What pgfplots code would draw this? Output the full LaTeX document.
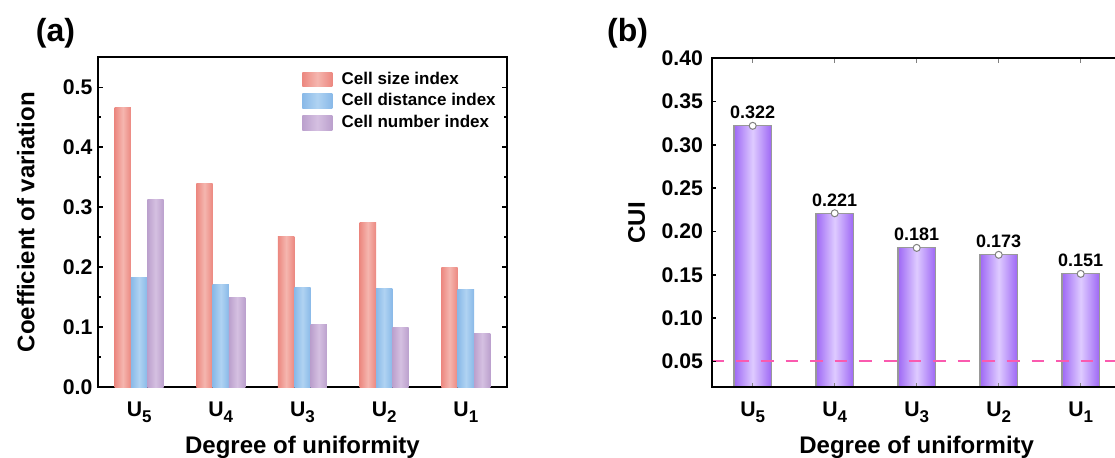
\documentclass[border=0pt]{standalone}
\usepackage{pgfplots}
\pgfplotsset{compat=1.18}
\usepackage{fontspec}
\setmainfont{Liberation Sans}
\definecolor{redD}{RGB}{236,136,128}
\definecolor{redL}{RGB}{245,182,175}
\definecolor{bluD}{RGB}{137,185,232}
\definecolor{bluL}{RGB}{176,211,242}
\definecolor{purD}{RGB}{187,160,205}
\definecolor{purL}{RGB}{213,192,225}
\definecolor{vioD}{RGB}{158,104,245}
\definecolor{vioL}{RGB}{222,203,255}
\definecolor{pinkD}{RGB}{250,90,175}
\newcommand{\sub}[1]{\raisebox{-2.9pt}{\fontsize{8.5}{8.5}\selectfont #1}}
\pgfplotsset{
  common/.style={
    scale only axis,
    xmin=-0.5, xmax=4.5,
    xtick={0,1,2,3,4},
    xticklabels={U\sub{5},U\sub{4},U\sub{3},U\sub{2},U\sub{1}},
    /pgf/number format/assume math mode=true,
    tick label style={font=\fontsize{10.6}{12}\selectfont\bfseries},
    xticklabel style={yshift=-3.8pt},
    axis line style={line width=1.1pt},
    major tick length=2.2pt, minor tick length=1.3pt,
    every tick/.style={black, line width=0.8pt},
    xlabel={Degree of uniformity},
    label style={font=\fontsize{12}{14}\selectfont\bfseries},
    xlabel style={at={(axis description cs:0.5,-0.2)}, anchor=base},
  },
  redbar/.style={ybar, bar width=0.2, bar shift=-0.2, draw=none, left color=redD, right color=redD, middle color=redL},
  blubar/.style={ybar, bar width=0.2, bar shift=0, draw=none, left color=bluD, right color=bluD, middle color=bluL},
  purbar/.style={ybar, bar width=0.2, bar shift=0.2, draw=none, left color=purD, right color=purD, middle color=purL},
  viobar/.style={ybar, bar width=0.455, bar shift=0, draw=gray!80, line width=0.6pt, left color=vioD, right color=vioD, middle color=vioL, forget plot},
}
\begin{document}
\begin{tikzpicture}[x=1pt,y=1pt]
\path[use as bounding box] (0,0) rectangle (557.5,229);
\clip (0,0) rectangle (557.5,229);
\begin{axis}[common,
  at={(49.15pt,35.35pt)}, anchor=south west,
  width=204.2pt, height=165pt,
  ymin=0, ymax=0.55,
  ytick={0,0.1,0.2,0.3,0.4,0.5},
  minor y tick num=1,
  yticklabel style={/pgf/number format/fixed, /pgf/number format/precision=1, /pgf/number format/fixed zerofill, inner xsep=2.8pt},
  major x tick style={draw=none},
  ylabel={Coefficient of variation},
  ylabel style={at={(axis description cs:-0.1775,0.5)}, anchor=center},
  legend style={at={(0.4995,0.958)}, anchor=north west, draw=none, fill=none,
    inner sep=0pt, outer sep=0pt, font=\fontsize{8.5}{10}\selectfont\bfseries,
    row sep=2.55pt, nodes={inner sep=0pt, text height=6.5pt, text depth=1.8pt},
    /tikz/every odd column/.append style={column sep=4.7pt}},
  legend cell align=left,
  legend image code/.code={\path[#1] (0pt,-3.6pt) rectangle (15pt,3.6pt);},
]
% first group carries the legend entries
\addplot[redbar] coordinates {(0,0.467)};
\addplot[blubar] coordinates {(0,0.183)};
\addplot[purbar] coordinates {(0,0.313)};
\legend{Cell size index, Cell distance index, Cell number index}
% Cell size index
\addplot[redbar, forget plot] coordinates {(1,0.340)};
\addplot[redbar, forget plot] coordinates {(2,0.251)};
\addplot[redbar, forget plot] coordinates {(3,0.274)};
\addplot[redbar, forget plot] coordinates {(4,0.199)};
% Cell distance index
\addplot[blubar, forget plot] coordinates {(1,0.172)};
\addplot[blubar, forget plot] coordinates {(2,0.166)};
\addplot[blubar, forget plot] coordinates {(3,0.165)};
\addplot[blubar, forget plot] coordinates {(4,0.163)};
% Cell number index
\addplot[purbar, forget plot] coordinates {(1,0.149)};
\addplot[purbar, forget plot] coordinates {(2,0.104)};
\addplot[purbar, forget plot] coordinates {(3,0.100)};
\addplot[purbar, forget plot] coordinates {(4,0.089)};
\end{axis}

\begin{axis}[common,
  at={(355.85pt,35.35pt)}, anchor=south west,
  width=205pt, height=164.5pt,
  ymin=0.02, ymax=0.40,
  ytick={0.05,0.10,0.15,0.20,0.25,0.30,0.35,0.40},
  yticklabel style={/pgf/number format/fixed, /pgf/number format/precision=2, /pgf/number format/fixed zerofill, inner xsep=4.2pt},
  axis on top,
  major x tick style={draw=gray, line width=0.6pt},
  ylabel={CUI},
  ylabel style={at={(axis description cs:-0.183,0.5)}, anchor=center},
]
\addplot[viobar] coordinates {(0,0.322)};
\addplot[viobar] coordinates {(1,0.221)};
\addplot[viobar] coordinates {(2,0.181)};
\addplot[viobar] coordinates {(3,0.173)};
\addplot[viobar] coordinates {(4,0.151)};
\addplot[only marks, mark=*, mark size=1.75pt, mark options={fill=white, draw=gray, line width=0.5pt},
  nodes near coords, nodes near coords style={color=black, anchor=south, inner sep=0pt, yshift=3.25pt,
    font=\fontsize{9}{10}\selectfont\bfseries,
    /pgf/number format/fixed, /pgf/number format/precision=3, /pgf/number format/fixed zerofill}]
  coordinates {(0,0.322) (1,0.221) (2,0.181) (3,0.173) (4,0.151)};
\addplot[color=pinkD, dash pattern=on 6.3pt off 6pt, line width=1pt]
  coordinates {(-0.5,0.05) (4.5,0.05)};
\end{axis}
\node[font=\fontsize{16}{18}\selectfont\bfseries] at (27.75,212.35) {(a)};
\node[font=\fontsize{16}{18}\selectfont\bfseries] at (313.8,212.35) {(b)};
\end{tikzpicture}
\end{document}
